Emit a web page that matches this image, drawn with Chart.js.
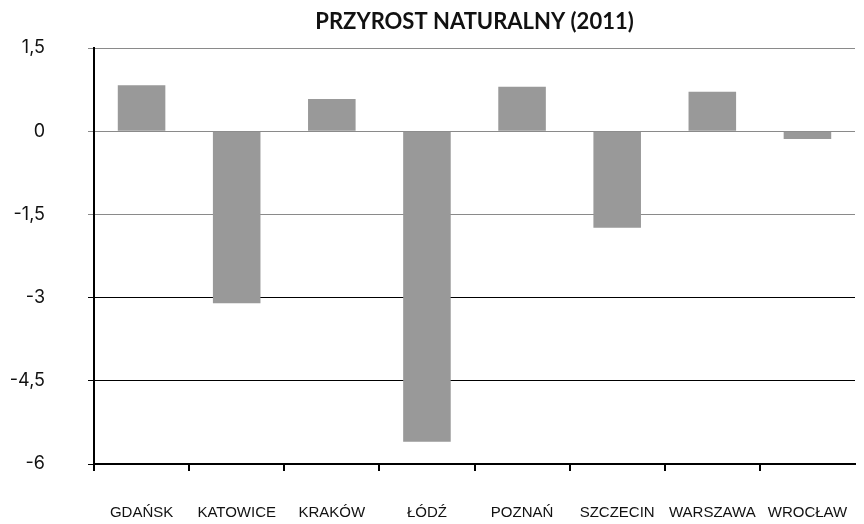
<!DOCTYPE html>
<html>
<head>
<meta charset="utf-8">
<script src="https://cdn.jsdelivr.net/npm/chart.js@4"></script>
<style>
  html, body { margin: 0; padding: 0; background: #fff; }
  #wrap { width: 864px; height: 524px; }
</style>
</head>
<body>
<div id="wrap"><canvas id="przyrost"></canvas></div>
<script>
var cities = ["GDAŃSK", "KATOWICE", "KRAKÓW", "ŁÓDŹ", "POZNAŃ", "SZCZECIN", "WARSZAWA", "WROCŁAW"];
var growth = [0.83, -3.1, 0.58, -5.6, 0.8, -1.74, 0.71, -0.14];
var yTicks = [-6, -4.5, -3, -1.5, 0, 1.5];

function commaLabel(v){
    // polski zapis liczb: przecinek zamiast kropki
    return String(Number(v.toFixed(1))).replace(".", ",");
}

var ctx = document.getElementById("przyrost");
new Chart(ctx, {
    type: "bar",
    data: {
        labels: cities,
        datasets: [{
            data: growth,
            backgroundColor: "#999999",
            barPercentage: 0.5,
            categoryPercentage: 1
        }]
    },
    options: {
        responsive: true,
        maintainAspectRatio: false,
        animation: false,
        layout: { padding: { left: 0, right: 9, top: 0, bottom: 0 } },
        plugins: {
            legend: { display: false },
            tooltip: { enabled: false },
            title: {
                display: true,
                fullSize: false,
                text: "PRZYROST NATURALNY (2011)",
                color: "#111",
                font: { family: "Lato", size: 22, weight: "bold" },
                padding: { top: 9, bottom: 12.6 }
            }
        },
        scales: {
            x: {
                grid: {
                    offset: true,
                    drawOnChartArea: false,
                    drawTicks: true,
                    tickLength: 7,
                    lineWidth: 2,
                    color: function(c){ return c.index === undefined ? "rgba(0,0,0,0)" : "#000"; }
                },
                border: { color: "#000", width: 2 },
                ticks: {
                    color: "#111",
                    padding: 33,
                    maxRotation: 0,
                    autoSkip: false,
                    font: { family: "Liberation Sans", size: 15 }
                },
                afterFit: function(scale){
                    scale.height = 60;
                    scale.paddingLeft = 0;
                    scale.paddingRight = 0;
                }
            },
            y: {
                min: -6,
                max: 1.5,
                afterBuildTicks: function(scale){
                    scale.ticks = yTicks.map(function(v){ return { value: v }; });
                },
                grid: {
                    tickLength: 6,
                    lineWidth: 1,
                    color: function(c){
                        if (!c.tick) return "#000";
                        return c.tick.value >= -1.5 ? "#8a8a8a" : "#000";
                    }
                },
                border: { color: "#000", width: 2 },
                ticks: {
                    color: "#111",
                    padding: 43,
                    font: { family: "Inter", size: 18 },
                    callback: function(v){ return commaLabel(v); }
                },
                afterFit: function(scale){
                    scale.width = 94;
                    scale.paddingTop = 0;
                    scale.paddingBottom = 0;
                }
            }
        }
    }
});
</script>
</body>
</html>
